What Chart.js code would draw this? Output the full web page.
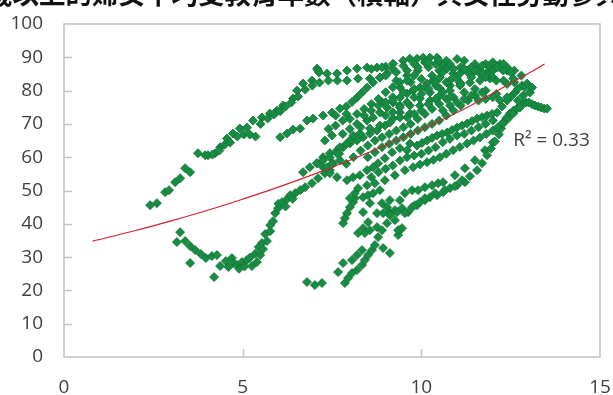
<!DOCTYPE html>
<html>
<head>
<meta charset="utf-8">
<script src="https://cdn.jsdelivr.net/npm/chart.js@4"></script>
<style>
html, body { margin: 0; padding: 0; background: #fff; overflow: hidden; }
#wrap { position: relative; width: 613px; height: 395px; overflow: hidden; }
#chart { position: absolute; left: 0; top: 0; }
#title {
    position: absolute; left: -14px; top: -20px; white-space: nowrap;
    font: bold 26.5px/26.5px "Noto Sans CJK TC"; color: #111;
}
</style>
</head>
<body>
<div id="wrap">
    <canvas id="chart" width="613" height="395"></canvas>
    <div id="title">歲以上的婦女平均受教育年數（橫軸）與女性勞動參與率</div>
</div>
<script>
// Axis setup
const xTicks = [0, 5, 10, 15];
const yTicks = [0, 10, 20, 30, 40, 50, 60, 70, 80, 90, 100];
const r2Label = 'R\u00b2 = 0.33';

// Trend line
const trendX = [0.8, 2, 3, 4, 5, 6, 7, 8, 9, 10, 11, 12, 13, 13.45];
const trendY = [34.8, 38.0, 40.9, 44.0, 47.4, 51.0, 54.9, 59.1, 63.6, 68.4, 73.4, 79.2, 85.2, 88.0];

// Country trajectories [years of schooling, participation %]
const trajA = [[2.41,45.6],[2.6,46.2],[2.83,49.5],[2.94,50.1],[3.11,52.5],[3.25,53.7],[3.39,56.7],[3.53,55.5],[3.75,61.2],[4.03,60.6],[4.23,61.2],[4.37,63.0],[4.56,65.6],[4.73,67.1],[4.92,68.6],[5.12,68.9],[5.29,71.0],[5.54,71.9],[5.76,73.1],[5.96,74.0],[6.13,75.5],[6.41,77.6],[6.52,80.0],[6.69,82.1],[6.94,83.0],[7.08,86.6],[7.11,86.0],[7.14,85.4],[7.36,85.1],[7.64,85.1],[7.92,86.0],[8.2,86.6],[8.48,86.9],[8.76,86.9],[9.0,87.2],[9.21,88.1],[9.49,89.0],[9.68,89.6],[9.88,89.6],[10.05,89.9],[10.24,89.9],[10.44,89.9],[10.52,88.4],[10.61,87.5],[10.72,86.6],[10.89,85.1],[11.08,85.1],[11.28,86.0],[11.45,85.4],[11.64,85.1],[11.84,85.4],[12.0,86.0],[12.2,86.9],[12.4,86.0]];
const trajB = [[3.95,60.6],[4.15,60.8],[4.35,62.0],[4.5,63.8],[4.65,64.4],[4.85,66.2],[5.03,66.8],[5.2,66.8],[5.36,66.2],[5.5,70.0],[5.7,71.6],[5.88,72.8],[6.05,73.8],[6.2,75.2],[6.36,76.4],[6.55,78.2],[6.75,80.3],[6.95,81.5],[7.15,82.4],[7.4,83.0],[7.65,83.0],[7.92,83.0],[8.23,83.6],[8.56,83.6],[8.84,83.9],[9.04,85.1]];
const trajC = [[6.05,66.0],[6.24,67.1],[6.41,68.3],[6.61,68.6],[6.8,71.0],[6.97,71.6],[7.25,72.5],[7.5,73.4],[7.72,74.6],[7.9,75.2],[8.06,76.6],[8.2,77.9],[8.34,79.4],[8.48,80.9],[8.65,82.4],[8.84,83.9]];
const trajD = [[3.16,34.5],[3.25,37.5],[3.39,34.8],[3.53,33.3],[3.53,28.2],[3.67,32.1],[3.83,30.9],[3.97,29.7],[4.14,30.3],[4.2,24.0],[4.28,30.6],[4.37,27.3],[4.53,28.8],[4.6,27.0],[4.7,29.7],[4.75,28.2],[4.84,27.6],[4.9,26.5],[4.98,28.5],[5.05,27.2],[5.12,29.1],[5.2,29.8],[5.26,27.3],[5.35,31.0],[5.4,28.5],[5.45,33.0],[5.49,30.6],[5.57,32.4],[5.54,34.2],[5.68,34.8],[5.63,36.9],[5.77,37.8],[5.77,39.6],[5.85,40.8],[5.91,43.2],[5.99,44.7],[6.0,46.0],[6.1,46.5],[6.2,45.2],[6.24,47.4],[6.33,48.6],[6.4,47.5],[6.47,49.2],[6.61,50.1],[6.75,51.0],[6.94,52.2],[7.11,53.7],[7.3,55.2],[7.44,56.1]];
const trajIso = [[6.8,22.5],[7.02,21.6],[7.22,22.2]];
const trajE = [[7.67,25.5],[7.86,22.2],[7.95,23.7],[8.06,25.2],[8.2,26.1],[8.34,27.6],[8.42,29.1],[8.51,30.6],[8.62,32.1],[8.7,33.6],[8.93,32.7],[9.12,31.2],[7.81,28.2],[8.06,29.1],[8.2,30.6],[8.34,32.1]];
const trajL = [[8.23,37.2],[8.37,38.7],[8.42,37.2],[8.51,40.5],[8.56,38.1],[8.76,39.0],[8.9,38.1],[8.79,36.0],[9.04,40.2],[9.35,36.6],[9.4,38.1]];
const trajP = [[7.81,40.2],[7.86,41.7],[7.92,43.2],[8.0,45.0],[8.09,46.5],[8.14,47.7],[8.37,48.0],[8.51,48.6],[8.65,49.2],[8.84,50.1],[9.04,45.0],[9.12,43.5],[9.26,44.1]];
const trajK = [[8.37,43.5],[8.56,46.2],[8.76,43.2],[8.93,43.2],[9.12,42.6],[9.32,43.5],[9.46,44.7],[9.63,43.5],[9.74,45.0],[9.88,45.6],[9.96,46.5],[10.1,47.1],[10.24,48.0],[10.44,48.6],[10.61,49.5],[10.8,50.7],[11.0,51.6],[11.22,52.5]];
const trajJ = [[8.9,46.2],[9.12,47.1],[9.4,47.1],[9.54,49.2],[9.74,50.1],[9.91,50.1],[10.1,51.0],[10.3,51.6],[10.47,52.2],[10.61,52.5],[10.94,54.6],[11.22,56.7],[11.5,59.1],[11.78,62.1],[12.0,64.4]];
const trajR = [[9.35,38.1],[9.46,38.7],[9.26,41.1],[9.54,43.2],[9.82,45.6],[10.1,47.7],[10.38,49.2],[10.66,50.1],[10.94,51.3],[11.14,53.1],[11.36,54.3],[11.56,56.1],[11.7,58.2],[11.84,60.6],[11.95,62.6],[12.06,64.7],[12.17,66.8],[12.23,68.6],[12.29,70.4],[12.38,71.8],[12.48,73.1],[12.58,74.0],[12.68,74.6],[12.77,75.5],[12.85,76.1],[12.93,76.4],[13.01,76.4],[13.1,75.9],[13.18,75.5],[13.27,75.2],[13.35,74.9],[13.44,74.6],[13.52,74.6]];
const trajI = [[8.0,47.7],[8.14,49.2],[8.23,50.7],[8.48,51.6],[8.7,52.2],[8.98,53.1],[9.26,54.6],[9.54,56.1],[9.77,57.0],[9.96,57.8],[10.16,58.5],[10.34,59.2],[10.52,60.0],[10.7,61.0],[10.89,62.1],[11.08,63.1],[11.28,64.1],[11.46,65.0],[11.64,65.9],[11.82,67.0],[12.0,68.0],[12.14,69.0],[12.29,70.1],[12.43,71.6],[12.57,73.1],[12.76,74.9]];
const trajH = [[7.25,57.0],[7.44,55.2],[7.64,54.0],[7.92,53.1],[8.09,54.0],[8.28,54.6],[8.48,56.1],[8.65,57.0],[8.79,58.2],[8.98,59.7],[9.18,61.5],[9.4,62.7],[9.6,62.1],[9.68,64.1],[9.88,63.5],[10.02,64.3],[10.16,65.0],[10.3,65.8],[10.44,66.5],[10.58,67.0],[10.72,67.4],[10.86,68.2],[11.0,68.9],[11.14,69.5],[11.28,70.1],[11.42,70.9],[11.56,71.6],[11.7,72.0],[11.84,72.5],[11.98,73.0],[12.12,73.4],[12.26,75.2],[12.4,77.0],[12.51,78.2],[12.62,79.4],[12.82,81.5]];
const trajM = [[6.69,55.5],[6.88,57.0],[7.08,58.2],[7.25,60.0],[7.44,61.2],[7.64,62.1],[7.81,63.0],[8.0,64.1],[8.2,65.0],[8.37,66.0],[8.56,67.1],[8.76,68.0],[8.98,69.5],[9.21,71.6],[9.4,73.4],[9.68,75.5],[9.96,77.6],[10.24,79.4],[10.52,80.6],[10.8,81.5],[11.08,82.4]];
const trajM2 = [[7.08,58.2],[7.25,59.1],[7.44,60.0],[7.64,61.2],[7.36,57.0],[7.53,58.2],[7.72,59.1]];
const trajG = [[7.72,63.0],[8.0,65.0],[8.28,67.1],[8.56,68.6],[8.84,69.5],[9.12,70.4],[9.4,71.9],[9.68,73.1],[9.96,75.5],[10.24,77.0],[10.52,78.5],[10.8,80.0],[11.08,81.5],[11.36,82.4],[11.64,83.0],[11.92,83.6]];
const trajF = [[7.5,58.0],[7.7,61.0],[7.9,64.0],[8.1,66.5],[8.3,69.0],[8.48,71.0],[8.65,71.9],[8.84,73.4],[9.04,74.9],[9.21,76.4],[9.4,77.9],[9.6,79.1],[9.77,80.0],[9.96,80.9],[10.16,82.1],[10.33,83.0],[10.52,83.9]];
const trajU1 = [[8.6,86.5],[8.9,87.0],[9.2,86.5],[9.5,87.5],[9.8,88.0],[10.1,88.5],[10.4,88.0],[10.7,89.0],[11.0,89.5],[11.2,89.0],[11.5,88.0],[11.8,88.0],[12.1,87.5],[12.4,87.0],[12.6,86.0],[12.8,84.5]];
const trajU2 = [[9.3,83.0],[9.6,84.5],[9.9,86.0],[10.2,87.0],[10.5,86.0],[10.8,83.0],[11.1,82.0],[11.4,84.0],[11.7,85.5],[12.0,84.0],[12.3,83.0],[12.6,82.5],[12.9,81.0]];
const trajU3 = [[8.9,76.5],[9.2,78.0],[9.5,79.5],[9.8,80.5],[10.1,81.0],[10.4,81.5],[10.7,82.5],[11.0,83.5],[11.3,85.5],[11.6,86.5],[11.9,87.5],[12.2,88.0]];
const trajU4 = [[10.9,78.0],[11.2,79.5],[11.5,80.5],[11.8,80.0],[12.1,79.0],[12.4,78.0],[12.7,77.0],[12.85,78.5],[13.04,79.4],[13.1,80.9],[12.96,82.1],[12.57,83.6],[12.29,86.0],[12.12,86.9]];
const trajV1 = [[7.9,58.0],[8.1,60.0],[8.3,62.0],[8.5,63.5],[8.7,65.0],[8.9,66.0],[9.1,67.0],[9.3,68.0],[9.5,69.0],[9.7,70.0],[9.9,71.5],[10.1,73.0],[10.3,74.5],[10.5,76.0],[10.7,77.5]];
const trajV2 = [[8.5,60.0],[8.7,61.5],[8.9,63.0],[9.1,64.0],[9.3,65.0],[9.5,66.0],[9.7,67.0],[9.9,68.0],[10.1,69.0],[10.3,70.0],[10.5,71.0],[10.7,72.5],[10.9,74.0],[11.1,75.5],[11.3,77.0],[11.5,78.5],[11.7,79.5]];
const trajW1 = [[9.0,84.5],[9.3,85.5],[9.6,86.0],[9.9,87.0],[10.2,88.5],[10.5,89.0],[10.8,88.0],[11.1,87.0],[11.4,87.0],[11.7,87.5],[12.0,88.5],[12.3,88.0],[12.5,85.5]];
const trajW2 = [[9.4,81.0],[9.7,82.5],[10.0,83.5],[10.3,84.5],[10.6,85.5],[10.9,86.5],[11.2,86.5],[11.5,86.0],[11.8,84.0],[12.1,83.0],[12.4,82.0],[12.7,80.5]];
const trajW3 = [[8.0,71.5],[8.2,73.0],[8.4,74.5],[8.6,76.0],[8.8,77.5],[9.0,79.5],[9.2,81.0],[9.4,82.5],[9.6,83.0],[9.8,84.5]];
const trajW4 = [[7.8,67.0],[8.0,68.5],[8.2,70.0],[8.4,72.5],[8.6,74.0],[8.8,75.5],[9.0,76.5],[9.2,77.0],[9.4,75.5],[9.6,76.5],[9.8,78.0],[10.0,79.0],[10.2,80.5],[10.4,82.5]];
const trajW5 = [[10.6,74.0],[10.8,75.5],[11.0,76.5],[11.2,77.5],[11.4,78.5],[11.6,77.0],[11.8,77.5],[12.0,78.0],[12.2,77.0]];
const trajW6 = [[9.0,72.5],[9.2,73.5],[9.4,75.0],[9.6,72.0],[9.8,73.0],[10.0,74.0],[10.2,76.0],[10.4,77.5],[10.6,79.5],[10.8,78.0]];
const trajW7 = [[8.6,54.0],[8.8,55.5],[9.0,56.5],[9.2,57.5],[9.4,59.0],[9.6,60.0],[9.8,60.5],[10.0,61.0],[10.2,62.0],[10.4,63.0],[10.6,64.5],[10.8,65.5],[11.0,66.5],[11.2,67.0],[11.4,68.0],[11.6,69.0],[11.8,70.0],[12.0,71.0]];
const trajW8 = [[7.3,65.0],[7.5,66.5],[7.4,68.5],[7.6,69.5],[7.8,71.0],[7.6,72.5],[7.9,73.0]];

const trajectories = [trajA, trajB, trajC, trajD, trajIso, trajE, trajL, trajP, trajK, trajJ, trajR,
    trajI, trajH, trajM, trajM2, trajG, trajF, trajU1, trajU2, trajU3, trajU4, trajV1, trajV2,
    trajW1, trajW2, trajW3, trajW4, trajW5, trajW6, trajW7, trajW8];

const points = trajectories.flat().map(p => ({ x: p[0], y: p[1] }));
const trend = trendX.map((x, i) => ({ x: x, y: trendY[i] }));

const axisFont = { family: 'Open Sans', size: 19 };

// Plot frame, inward tick marks and the R² label
const framePlugin = {
    id: 'frame',
    beforeDatasetsDraw(chart) {
        const { ctx, chartArea: a, scales } = chart;
        ctx.save();
        ctx.strokeStyle = '#c3c3c3';
        ctx.lineWidth = 1.5;
        ctx.strokeRect(a.left, a.top, a.right - a.left, a.bottom - a.top);
        ctx.beginPath();
        yTicks.slice(1, -1).forEach(v => {
            const py = Math.round(scales.y.getPixelForValue(v)) + 0.5;
            ctx.moveTo(a.left, py);
            ctx.lineTo(a.left + 8, py);
        });
        xTicks.slice(1, -1).forEach(v => {
            const px = Math.round(scales.x.getPixelForValue(v)) + 0.5;
            ctx.moveTo(px, a.bottom);
            ctx.lineTo(px, a.bottom - 8);
        });
        ctx.stroke();
        ctx.restore();
    },
    afterDatasetsDraw(chart) {
        const { ctx, scales } = chart;
        ctx.save();
        ctx.font = '19px "Open Sans"';
        ctx.fillStyle = '#404040';
        ctx.textAlign = 'left';
        ctx.textBaseline = 'middle';
        ctx.fillText(r2Label, scales.x.getPixelForValue(12.57), scales.y.getPixelForValue(65));
        ctx.restore();
    }
};

new Chart(document.getElementById('chart'), {
    type: 'scatter',
    data: {
        datasets: [{
            data: trend,
            showLine: true,
            borderColor: '#d2222e',
            borderWidth: 1.2,
            pointRadius: 0,
            tension: 0.4,
            fill: false
        }, {
            data: points,
            pointStyle: 'rectRot',
            pointRadius: 4.5,
            backgroundColor: '#178c43',
            borderColor: '#117437',
            borderWidth: 0.8
        }]
    },
    options: {
        responsive: false,
        animation: false,
        devicePixelRatio: 1,
        layout: { padding: { top: 24, right: 13, left: 0, bottom: 0 } },
        plugins: {
            legend: { display: false },
            tooltip: { enabled: false }
        },
        scales: {
            x: {
                type: 'linear',
                min: 0,
                max: 15,
                afterFit: s => { s.height = 38; s.paddingLeft = 0; s.paddingRight = 0; },
                grid: { display: false, drawTicks: false },
                border: { display: false },
                ticks: { stepSize: 5, font: axisFont, color: '#404040', padding: 19, maxRotation: 0 }
            },
            y: {
                min: 0,
                max: 100,
                afterFit: s => { s.width = 64; s.paddingTop = 0; s.paddingBottom = 0; },
                grid: { display: false, drawTicks: false },
                border: { display: false },
                ticks: { stepSize: 10, font: axisFont, color: '#404040', padding: 21 }
            }
        }
    },
    plugins: [framePlugin]
});
</script>
</body>
</html>
